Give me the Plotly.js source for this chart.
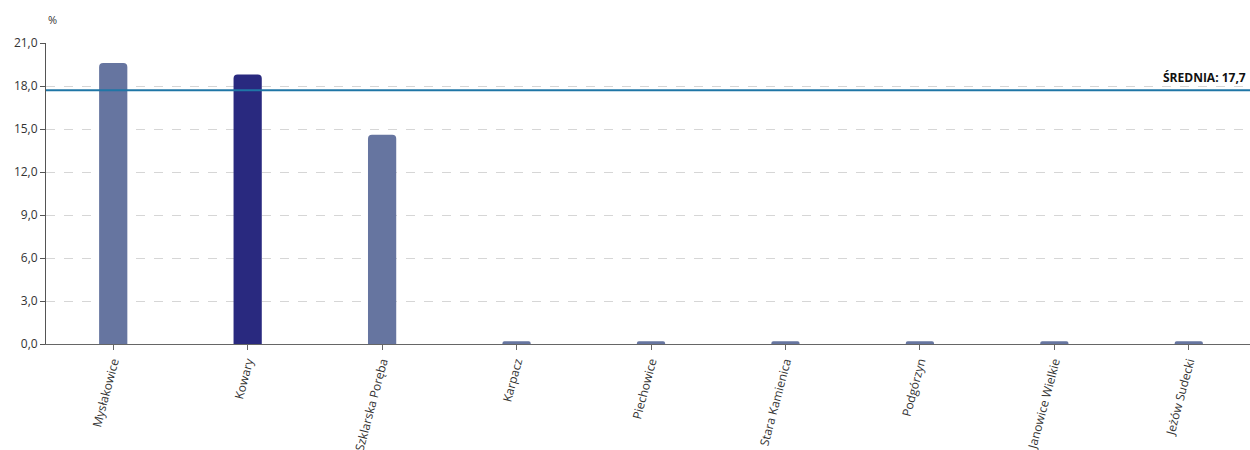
<!DOCTYPE html>
<html><head><meta charset="utf-8">
<script src="https://cdn.plot.ly/plotly-3.0.1.min.js"></script>
<style>html,body{margin:0;padding:0;overflow:hidden;background:#fff}</style>
</head><body><div id="chart" style="width:1256px;height:450px"></div>
<script>
const categories = ["Mysłakowice","Kowary","Szklarska Poręba","Karpacz","Piechowice","Stara Kamienica","Podgórzyn","Janowice Wielkie","Jeżów Sudecki"];
const values = [19.6, 18.8, 14.6, 0.2, 0.2, 0.2, 0.2, 0.2, 0.2];
const highlighted = "Kowary";
const averageValue = 17.7;
const yTicks = [0, 3, 6, 9, 12, 15, 18, 21];

const colors = categories.map(c => c === highlighted ? "#29297f" : "#6675a0");
const font = "'Open Sans', 'Noto Sans', sans-serif";

Plotly.newPlot("chart", [{
  type: "bar", x: categories, y: values,
  marker: {color: colors, cornerradius: 4},
  width: 0.21, hoverinfo: "x+y"
}], {
  width: 1256, height: 450,
  margin: {l: 46, r: 0, t: 43, b: 106},
  separators: ", ",
  paper_bgcolor: "#fff", plot_bgcolor: "#fff",
  font: {family: font, size: 12, color: "#333"},
  showlegend: false,
  xaxis: {
    type: "category", range: [-0.5, 8.5], tickangle: -75,
    showline: true, linecolor: "#666", linewidth: 1,
    ticks: "outside", ticklen: 5, tickcolor: "#666",
    showgrid: false, tickfont: {size: 12, color: "#333"}, fixedrange: true
  },
  yaxis: {
    range: [0, 21], tickvals: yTicks, tickformat: ".1f",
    showline: true, linecolor: "#555", linewidth: 1,
    ticks: "outside", ticklen: 5, tickcolor: "#555",
    showgrid: true, gridcolor: "#d6d6d6", griddash: "dash", gridwidth: 1,
    zeroline: false, tickfont: {size: 12, color: "#333"}, fixedrange: true
  },
  shapes: [{
    type: "line", xref: "paper", x0: 0, x1: 1, yref: "y", y0: averageValue, y1: averageValue,
    line: {color: "#1f76a6", width: 2}
  }],
  annotations: [
    {xref: "paper", yref: "paper", x: 0, y: 1, xanchor: "left", yanchor: "bottom",
     yshift: 14, text: "%", showarrow: false, font: {size: 11, color: "#333"}},
    {xref: "paper", yref: "y", x: 1250/1256 * 1 - 0.0, y: averageValue, xanchor: "right", yanchor: "bottom",
     xshift: -2, yshift: 2, text: "<b>ŚREDNIA: " + averageValue.toFixed(1).replace(".", ",") + "</b>",
     showarrow: false, font: {size: 12, color: "#111"}}
  ]
}, {displayModeBar: false, staticPlot: true});
</script></body></html>
